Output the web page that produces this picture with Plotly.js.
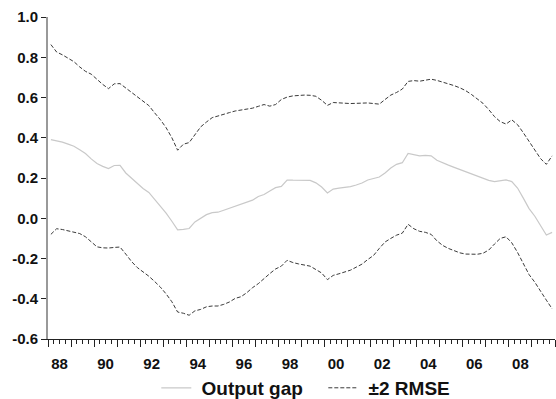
<!DOCTYPE html>
<html>
<head>
<meta charset="utf-8">
<script src="https://cdn.plot.ly/plotly-3.0.1.min.js"></script>
<style>html,body{margin:0;padding:0;background:#fff;}#chart{width:556px;height:399px;}</style>
</head>
<body>
<div id="chart"></div>
<script>
// Quarterly data, 1988Q1 .. 2009Q4
var startYear = 1988;
var outputGap = [
  0.391, 0.386, 0.378, 0.368, 0.358, 0.340, 0.322, 0.295,
  0.272, 0.258, 0.247, 0.262, 0.263, 0.225, 0.200, 0.174,
  0.148, 0.128, 0.095, 0.060, 0.025, -0.015, -0.058, -0.055,
  -0.051, -0.018, 0.000, 0.018, 0.028, 0.030, 0.040, 0.050,
  0.062, 0.072, 0.080, 0.090, 0.108, 0.118, 0.135, 0.152,
  0.158, 0.190, 0.189, 0.189, 0.189, 0.188, 0.176, 0.155,
  0.126, 0.145, 0.150, 0.152, 0.157, 0.165, 0.175, 0.190,
  0.198, 0.205, 0.225, 0.250, 0.268, 0.276, 0.322, 0.315,
  0.310, 0.312, 0.310, 0.288, 0.275, 0.264, 0.253, 0.242,
  0.230, 0.221, 0.210, 0.200, 0.188, 0.182, 0.186, 0.191,
  0.182, 0.150, 0.100, 0.048, 0.010, -0.040, -0.083, -0.070
];
var upperBand = [
  0.863, 0.826, 0.812, 0.795, 0.778, 0.752, 0.730, 0.716,
  0.690, 0.665, 0.644, 0.668, 0.669, 0.648, 0.627, 0.605,
  0.584, 0.560, 0.524, 0.490, 0.450, 0.400, 0.338, 0.368,
  0.376, 0.415, 0.454, 0.478, 0.500, 0.508, 0.518, 0.525,
  0.533, 0.538, 0.542, 0.547, 0.556, 0.565, 0.557, 0.565,
  0.590, 0.602, 0.608, 0.611, 0.612, 0.611, 0.606, 0.586,
  0.561, 0.575, 0.573, 0.571, 0.570, 0.571, 0.572, 0.573,
  0.570, 0.567, 0.590, 0.612, 0.625, 0.642, 0.680, 0.684,
  0.681, 0.686, 0.691, 0.685, 0.677, 0.668, 0.659, 0.648,
  0.634, 0.615, 0.592, 0.571, 0.540, 0.505, 0.480, 0.468,
  0.489, 0.465, 0.425, 0.380, 0.338, 0.296, 0.268, 0.310
];
var lowerBand = [
  -0.080, -0.052, -0.056, -0.062, -0.068, -0.076, -0.092, -0.118,
  -0.142, -0.147, -0.148, -0.145, -0.143, -0.178, -0.215, -0.245,
  -0.266, -0.288, -0.314, -0.342, -0.376, -0.415, -0.466, -0.472,
  -0.482, -0.460, -0.453, -0.440, -0.436, -0.436, -0.428, -0.416,
  -0.398, -0.390, -0.370, -0.345, -0.325, -0.298, -0.275, -0.252,
  -0.238, -0.209, -0.220, -0.227, -0.232, -0.238, -0.255, -0.272,
  -0.305, -0.284, -0.276, -0.268, -0.258, -0.243, -0.228, -0.205,
  -0.185, -0.150, -0.118, -0.100, -0.084, -0.074, -0.030, -0.052,
  -0.065, -0.070, -0.080, -0.112, -0.135, -0.150, -0.162, -0.172,
  -0.178, -0.180, -0.179, -0.174, -0.158, -0.128, -0.100, -0.092,
  -0.122, -0.170, -0.225, -0.280, -0.318, -0.365, -0.407, -0.450
];
var yearTickVals = [1988,1989,1990,1991,1992,1993,1994,1995,1996,1997,1998,1999,2000,2001,2002,2003,2004,2005,2006,2007,2008,2009,2010];
var labelTickVals = [1988.5,1990.5,1992.5,1994.5,1996.5,1998.5,2000.5,2002.5,2004.5,2006.5,2008.5];
var labelTickText = ["88","90","92","94","96","98","00","02","04","06","08"];
var yTickVals = [-0.6,-0.4,-0.2,0.0,0.2,0.4,0.6,0.8,1.0];
var yTickText = ["-0.6","-0.4","-0.2","0.0","0.2","0.4","0.6","0.8","1.0"];
var seriesNames = ["Output gap", "\u00b12 RMSE"];

// x position of each quarter (centre of the quarter)
var xq = outputGap.map(function(_, i){ return startYear + i/4 + 0.125; });

var bandLine = {color:'#3a3a3a', width:1, dash:'4px,2px'};
var traces = [
  {x:xq, y:outputGap, type:'scatter', mode:'lines', name:'\u00a0' + seriesNames[0],
   line:{color:'#c9c9c9', width:1.2}},
  {x:xq, y:upperBand, type:'scatter', mode:'lines', name:'\u00a0' + seriesNames[1],
   legendgroup:'band', line:bandLine},
  {x:xq, y:lowerBand, type:'scatter', mode:'lines', name:seriesNames[1], xaxis:'x2',
   legendgroup:'band', showlegend:false, line:bandLine}
];

var fam = '"Liberation Sans", Arial, sans-serif';
var tickFont = {family:fam, size:15, weight:'bold', color:'#111'};
var xRange = [1988, 2010];
var layout = {
  width:556, height:399,
  margin:{l:48, r:1, t:17, b:60, autoexpand:false},
  paper_bgcolor:'#fff', plot_bgcolor:'#fff',
  showlegend:true,
  legend:{orientation:'h', x:0.543, xanchor:'center', y:-0.152, yanchor:'middle',
          font:{family:fam, size:19, weight:'bold', color:'#111'},
          entrywidth:122, entrywidthmode:'pixels', bgcolor:'rgba(0,0,0,0)'},
  xaxis:{range:xRange, tickmode:'array', tickvals:labelTickVals, ticktext:labelTickText,
         ticks:'outside', ticklen:11, tickwidth:1, tickcolor:'rgba(0,0,0,0)',
         showline:true, linecolor:'#222', linewidth:1, showgrid:false, zeroline:false,
         tickfont:tickFont, fixedrange:true, automargin:false},
  xaxis2:{range:xRange, overlaying:'x', anchor:'y', side:'bottom',
          tickmode:'array', tickvals:yearTickVals, showticklabels:false,
          ticks:'outside', ticklen:7, tickwidth:1, tickcolor:'#222',
          minor:{dtick:0.25, tick0:1988, ticks:'outside', ticklen:4, tickwidth:1, tickcolor:'#222', showgrid:false},
          showline:false, showgrid:false, zeroline:false, fixedrange:true, automargin:false},
  yaxis:{range:[-0.6, 1.0], tickmode:'array', tickvals:yTickVals, ticktext:yTickText,
         ticks:'outside', ticklen:5, tickwidth:1, tickcolor:'#222',
         showline:true, linecolor:'#999', linewidth:2, showgrid:false, zeroline:false,
         tickfont:tickFont, fixedrange:true, automargin:false}
};
Plotly.newPlot('chart', traces, layout, {displayModeBar:false, staticPlot:true});
</script>
</body>
</html>
